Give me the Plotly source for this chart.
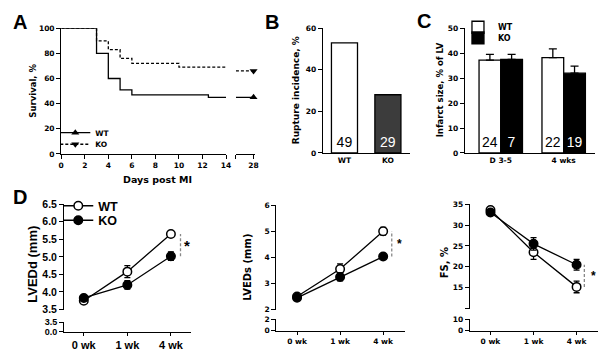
import plotly.graph_objects as go

W, H = 612, 361

# ---------------- data ----------------
# Panel A: Kaplan-Meier survival (%)
wt_days = [0, 3, 4, 5, 6, 12.5, 14]
wt_surv = [100, 80, 60, 51, 47, 45, 45]
ko_days = [0, 3, 4, 5, 6, 10, 14]
ko_surv = [100, 90, 83, 76, 72, 69, 69]
late_day = 28
wt_surv_late = 45
ko_surv_late = 66
day_ticks = [0, 2, 4, 6, 8, 10, 12, 14]
surv_ticks = [0, 20, 40, 60, 80, 100]

# Panel B: rupture incidence (%)
groups = ["WT", "KO"]
rupture_pct = [53, 28]
rupture_n = [49, 29]

# Panel C: infarct size (% of LV)
times_c = ["D 3-5", "4 wks"]
infarct_wt = [37.2, 38.2]
infarct_wt_err = [2.3, 3.5]
infarct_ko = [37.5, 32.0]
infarct_ko_err = [2.0, 2.8]
n_wt = [24, 22]
n_ko = [7, 19]

# Panel D: echo
weeks = ["0 wk", "1 wk", "4 wk"]
lvedd_wt = [3.75, 4.58, 5.65]
lvedd_wt_err = [0.05, 0.17, 0.08]
lvedd_ko = [3.83, 4.20, 5.02]
lvedd_ko_err = [0.05, 0.12, 0.12]
lveds_wt = [2.50, 3.55, 5.00]
lveds_wt_err = [0.05, 0.20, 0.15]
lveds_ko = [2.45, 3.25, 4.03]
lveds_ko_err = [0.05, 0.15, 0.08]
fs_wt = [33.6, 23.5, 15.2]
fs_wt_err = [0.5, 1.7, 1.4]
fs_ko = [33.0, 25.5, 20.5]
fs_ko_err = [0.5, 1.5, 1.3]

# ---------------- helpers ----------------
def xd(a, b):
    return [a / W, b / W]

def yd(top, bottom):
    return [1 - bottom / H, 1 - top / H]

SMALL = dict(family="DejaVu Sans", size=7.5, color="black", weight="bold")
ARIALB = dict(family="Liberation Sans", size=11, color="black", weight="bold")
ARIALB_Y = dict(ARIALB, size=10.5)
LW = 1.3

def axis(**kw):
    base = dict(showline=True, linecolor="black", linewidth=LW, ticks="outside",
                ticklen=4, tickwidth=LW, tickcolor="black", showgrid=False,
                zeroline=False, tickfont=SMALL, fixedrange=True)
    base.update(kw)
    return base

fig = go.Figure()

# ---------------- Panel A ----------------
A2_START = 26.4
fig.add_trace(go.Scatter(x=ko_days, y=ko_surv, mode="lines", line_shape="hv",
                         line=dict(color="black", width=LW, dash="3px,2px"),
                         xaxis="x", yaxis="y", showlegend=False))
fig.add_trace(go.Scatter(x=wt_days, y=wt_surv, mode="lines", line_shape="hv",
                         line=dict(color="black", width=LW),
                         xaxis="x", yaxis="y", showlegend=False))
fig.add_trace(go.Scatter(x=[A2_START, late_day], y=[ko_surv_late, ko_surv_late], mode="lines",
                         line=dict(color="black", width=LW, dash="3px,2px"),
                         xaxis="x2", yaxis="y", showlegend=False))
fig.add_trace(go.Scatter(x=[A2_START, late_day], y=[wt_surv_late, wt_surv_late], mode="lines",
                         line=dict(color="black", width=LW),
                         xaxis="x2", yaxis="y", showlegend=False))
fig.add_trace(go.Scatter(x=[late_day], y=[ko_surv_late], mode="markers",
                         marker=dict(symbol="triangle-down", size=7, color="black"),
                         xaxis="x2", yaxis="y", showlegend=False, cliponaxis=False))
fig.add_trace(go.Scatter(x=[late_day], y=[wt_surv_late], mode="markers",
                         marker=dict(symbol="triangle-up", size=7, color="black"),
                         xaxis="x2", yaxis="y", showlegend=False, cliponaxis=False))
# legend entries
fig.add_trace(go.Scatter(x=[None], y=[None], mode="lines+markers", name="WT",
                         line=dict(color="black", width=LW),
                         marker=dict(symbol="triangle-up", size=7, color="black"),
                         xaxis="x", yaxis="y", legend="legend"))
fig.add_trace(go.Scatter(x=[None], y=[None], mode="lines+markers", name="KO",
                         line=dict(color="black", width=LW, dash="3px,2px"),
                         marker=dict(symbol="triangle-down", size=7, color="black"),
                         xaxis="x", yaxis="y", legend="legend2"))

# ---------------- Panel B ----------------
fig.add_trace(go.Bar(x=groups, y=rupture_pct, width=0.6,
                     marker=dict(color=["white", "#3c3c3c"], line=dict(color="black", width=LW)),
                     text=[str(v) for v in rupture_n], textposition="inside",
                     insidetextanchor="start",
                     insidetextfont=dict(family="Liberation Sans", size=14, color=["black", "white"]),
                     xaxis="x3", yaxis="y3", showlegend=False))

# ---------------- Panel C ----------------
fig.add_trace(go.Bar(x=times_c, y=infarct_wt, width=0.345, offset=-0.345, name="WT",
                     marker=dict(color="white", line=dict(color="black", width=LW)),
                     error_y=dict(type="data", array=infarct_wt_err, arrayminus=[0, 0],
                                  symmetric=False, color="black", thickness=LW, width=4),
                     text=[str(v) for v in n_wt], textposition="inside", insidetextanchor="start",
                     insidetextfont=dict(family="Liberation Sans", size=14, color="black"),
                     xaxis="x4", yaxis="y4", legend="legend3"))
fig.add_trace(go.Bar(x=times_c, y=infarct_ko, width=0.345, offset=0, name="KO",
                     marker=dict(color="black", line=dict(color="black", width=LW)),
                     error_y=dict(type="data", array=infarct_ko_err, arrayminus=[0, 0],
                                  symmetric=False, color="black", thickness=LW, width=4),
                     text=[str(v) for v in n_ko], textposition="inside", insidetextanchor="start",
                     insidetextfont=dict(family="Liberation Sans", size=14, color="white"),
                     xaxis="x4", yaxis="y4", legend="legend4"))

# ---------------- Panel D ----------------
def echo_pair(xa, ya, ya_low, wt, wte, ko, koe, legends=None):
    # empty trace so that the lower (broken) axis segment subplot exists
    fig.add_trace(go.Scatter(x=[], y=[], xaxis=xa, yaxis=ya_low, showlegend=False,
                             hoverinfo="skip"))
    for vals, errs, name, fill, leg in [(wt, wte, "WT", "white", legends[0] if legends else None),
                                        (ko, koe, "KO", "black", legends[1] if legends else None)]:
        fig.add_trace(go.Scatter(
            x=weeks, y=vals, mode="lines+markers", name=name,
            line=dict(color="black", width=LW),
            marker=dict(symbol="circle", size=8.5, color=fill, line=dict(color="black", width=1.5)),
            error_y=dict(type="data", array=errs, color="black", thickness=LW, width=3),
            xaxis=xa, yaxis=ya, showlegend=bool(leg), legend=leg if leg else "legend",
            cliponaxis=False))

echo_pair("x5", "y5", "y6", lvedd_wt, lvedd_wt_err, lvedd_ko, lvedd_ko_err, ("legend5", "legend6"))
echo_pair("x7", "y7", "y8", lveds_wt, lveds_wt_err, lveds_ko, lveds_ko_err)
echo_pair("x9", "y9", "y10", fs_wt, fs_wt_err, fs_ko, fs_ko_err)

# significance markers (derived from 4-wk values)
shapes = []
annotations = []
for xa, ya, wt, ko, xl, xs, sz in [("x5", "y5", lvedd_wt, lvedd_ko, 2.22, 2.37, 15),
                                   ("x7", "y7", lveds_wt, lveds_ko, 2.2, 2.38, 12),
                                   ("x9", "y9", fs_wt, fs_ko, 2.18, 2.4, 12)]:
    lo, hi = min(wt[2], ko[2]), max(wt[2], ko[2])
    shapes.append(dict(type="line", xref=xa, yref=ya, x0=xl, x1=xl, y0=lo, y1=hi,
                       line=dict(color="#888888", width=LW, dash="3px,2px")))
    annotations.append(dict(text="*", xref=xa, yref=ya, x=xs, y=(lo + hi) / 2,
                            showarrow=False, font=dict(family="Liberation Sans", size=sz,
                                                        color="black", weight="bold")))

# panel letters
for letter, px, py in [("A", 17, 17), ("B", 273, 17), ("C", 427, 16), ("D", 17, 198)]:
    annotations.append(dict(text=letter, xref="paper", yref="paper", x=px / W, y=1 - py / H,
                            showarrow=False, xanchor="center", yanchor="middle",
                            font=dict(family="Liberation Sans", size=20, color="black", weight="bold")))

# axis titles
def ytitle(text, px, py, font):
    annotations.append(dict(text=text, xref="paper", yref="paper", x=px / W, y=1 - py / H,
                            showarrow=False, textangle=-90, xanchor="center", yanchor="middle",
                            font=font))

TF = dict(family="DejaVu Sans", size=8.5, color="black", weight="bold")
ytitle("Survival, %", 30, 88, TF)
ytitle("Rupture incidence, %", 297, 87, dict(TF, size=9))
ytitle("Infarct size, % of LV", 443, 87, dict(TF, size=8.5))
ytitle("LVEDd (mm)", 30, 267, dict(family="Liberation Sans", size=13, color="black", weight="bold"))
ytitle("LVEDs (mm)", 247, 270, dict(TF, size=10))
ytitle("FS, %", 447, 266, dict(TF, size=10))
annotations.append(dict(text="Days post MI", xref="paper", yref="paper", x=157 / W, y=1 - 179 / H,
                        showarrow=False, xanchor="center", yanchor="middle",
                        font=dict(TF, size=9.5)))

leg_common = dict(bgcolor="rgba(0,0,0,0)", borderwidth=0, xanchor="left", yanchor="middle",
                  itemclick=False, itemdoubleclick=False)

fig.update_layout(
    width=W, height=H, margin=dict(l=0, r=0, t=0, b=0), autosize=False,
    paper_bgcolor="white", plot_bgcolor="white", showlegend=True, barmode="overlay",
    # Panel A
    xaxis=axis(domain=xd(59, 226), range=[0, 14], tickvals=day_ticks, anchor="y"),
    xaxis2=axis(domain=xd(236, 255), range=[A2_START, 28.1], tickvals=[A2_START, late_day],
                ticktext=["", str(late_day)], anchor="y"),
    yaxis=axis(domain=yd(23, 153), range=[0, 100], tickvals=surv_ticks, anchor="x"),
    # Panel B
    xaxis3=axis(domain=xd(324, 412), type="category", range=[-0.5, 1.5], ticks="", anchor="y3"),
    yaxis3=axis(domain=yd(23, 152), range=[0, 60], tickvals=[0, 20, 40, 60], anchor="x3"),
    # Panel C
    xaxis4=axis(domain=xd(468, 600), type="category", range=[-0.57, 1.5], ticks="", anchor="y4"),
    yaxis4=axis(domain=yd(23, 152), range=[0, 50], dtick=10, anchor="x4"),
    # Panel D1
    xaxis5=axis(domain=xd(62, 190), type="category", range=[-0.45, 2.45], anchor="y6",
                ticklen=3, tickfont=ARIALB),
    yaxis5=axis(domain=yd(205, 314), range=[3.5, 6.5], dtick=0.5, tickformat=".1f",
                anchor="x5", tickfont=ARIALB_Y),
    yaxis6=axis(domain=yd(327, 337), range=[0, 3.5], tickvals=[0, 3.5], ticktext=["0.0", "3.5"],
                anchor="x5", tickfont=dict(ARIALB_Y, size=9)),
    # Panel D2
    xaxis7=axis(domain=xd(277, 407), type="category", range=[-0.48, 2.5], anchor="y8", ticklen=3),
    yaxis7=axis(domain=yd(206, 314), range=[2, 6], dtick=1, anchor="x7"),
    yaxis8=axis(domain=yd(324, 336), range=[0, 2], tickvals=[0, 2], anchor="x7"),
    # Panel D3
    xaxis9=axis(domain=xd(473, 603), type="category", range=[-0.48, 2.5], anchor="y10", ticklen=3),
    yaxis9=axis(domain=yd(205, 313), range=[10, 35], tickvals=[10, 15, 20, 25, 30, 35],
                ticktext=["", "15", "20", "25", "30", "35"], anchor="x9"),
    yaxis10=axis(domain=yd(324, 336), range=[0, 10], tickvals=[0, 10], anchor="x9"),
    legend=dict(leg_common, x=53 / W, y=1 - 131 / H, font=SMALL),
    legend2=dict(leg_common, x=53 / W, y=1 - 143 / H, font=SMALL),
    legend3=dict(leg_common, x=461 / W, y=1 - 22 / H, font=dict(SMALL, size=8)),
    legend4=dict(leg_common, x=461 / W, y=1 - 33 / H, font=dict(SMALL, size=8)),
    legend5=dict(leg_common, x=56 / W, y=1 - 207 / H, font=dict(ARIALB, size=12.5)),
    legend6=dict(leg_common, x=56 / W, y=1 - 222 / H, font=dict(ARIALB, size=12.5)),
    shapes=shapes, annotations=annotations,
)

fig.write_html("out.html", config={"displayModeBar": False},
               post_script="document.body.style.margin='0px';")
